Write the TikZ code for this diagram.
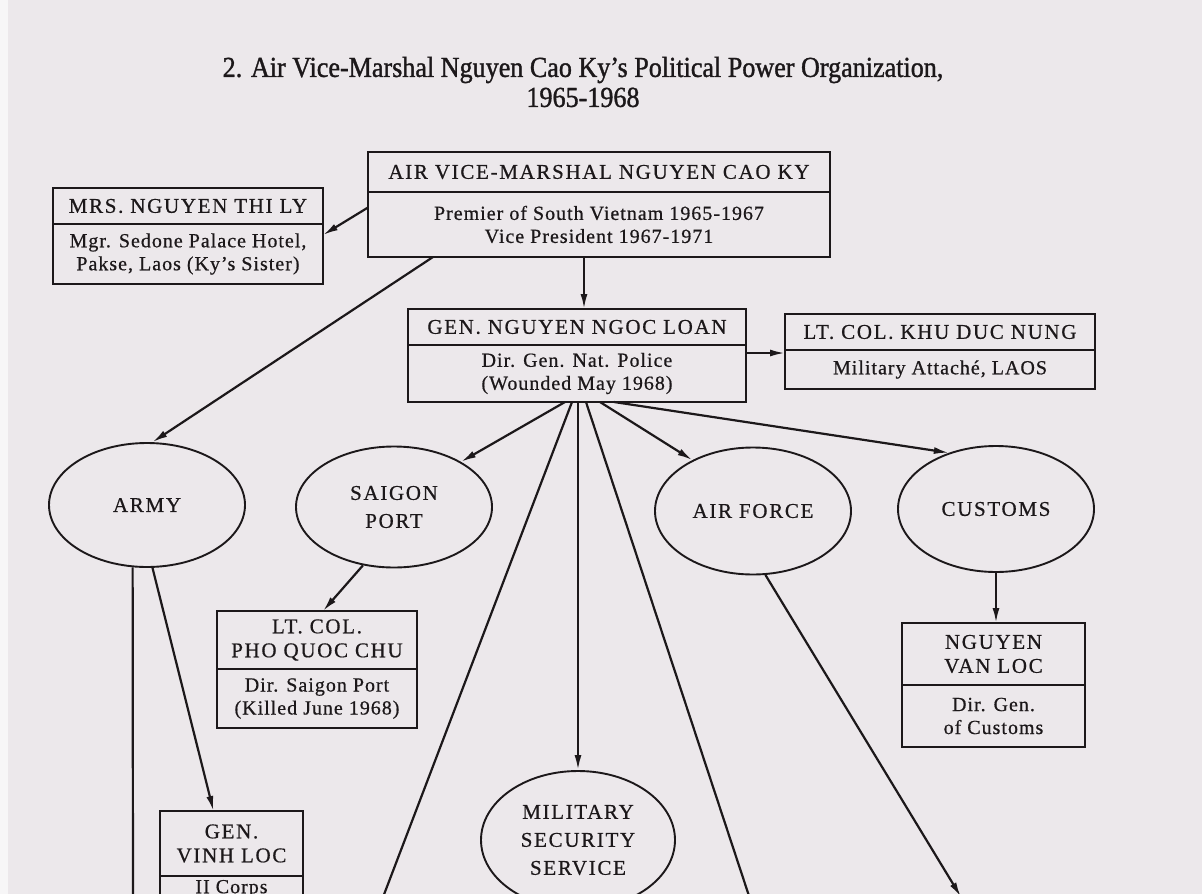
\documentclass[tikz,border=0pt]{standalone}
\usepackage{fontspec}
\setmainfont{Liberation Serif}
\newfontfamily\ttlfont[FakeStretch=0.9,FakeBold=1.2]{Liberation Serif}
\newfontfamily\capfont[LetterSpace=8,FakeBold=0.6]{Liberation Serif}
\newfontfamily\txtfont[LetterSpace=5,FakeBold=0.6]{Liberation Serif}
\usetikzlibrary{arrows.meta,positioning,shapes.geometric}
\definecolor{paper}{RGB}{236,232,235}
\definecolor{ink}{RGB}{28,24,26}

\begin{document}
\begin{tikzpicture}[x=1pt,y=-1pt,>={Latex[length=15pt,width=7pt]},
  hd/.style={draw=ink,line width=2.2pt,fill=paper,outer sep=0pt,inner sep=1pt,align=center,text=ink,font=\capfont\fontsize{21}{24}\selectfont},
  bd/.style={hd,font=\txtfont\fontsize{20}{23}\selectfont},
  oval/.style={ellipse,draw=ink,line width=1.9pt,fill=paper,inner sep=0pt,align=center,text=ink,font=\capfont\fontsize{21}{28}\selectfont},
  link/.style={draw=ink,line width=2.2pt}]
\useasboundingbox (0,0) rectangle (1202,894);
\clip (0,0) rectangle (1202,894);
\fill[paper] (0,0) rectangle (1202,894);
\fill[paper!40!white] (0,0) rectangle (8,894);

% title
\node[font=\ttlfont\fontsize{29}{30}\selectfont,text=ink,align=center] (ttl) at (583,82) {2. Air Vice-Marshal Nguyen Cao Ky’s Political Power Organization,\\1965-1968};

% people
\node[hd,minimum width=462pt,minimum height=40pt] (ky) at (599,172) {AIR VICE-MARSHAL NGUYEN CAO KY};
\node[bd,minimum width=462pt,minimum height=65pt,below=0pt of ky] (kyb) {Premier of South Vietnam 1965-1967\\Vice President 1967-1971};
\node[hd,minimum width=270pt,minimum height=36pt] (ly) at (188,206) {MRS. NGUYEN THI LY};
\node[bd,minimum width=270pt,minimum height=60pt,below=0pt of ly] (lyb) {Mgr. Sedone Palace Hotel,\\Pakse, Laos (Ky’s Sister)};
\node[hd,minimum width=338pt,minimum height=36pt] (loan) at (577,327) {GEN. NGUYEN NGOC LOAN};
\node[bd,minimum width=338pt,minimum height=57pt,below=0pt of loan] (loanb) {Dir. Gen. Nat. Police\\(Wounded May 1968)};
\node[hd,minimum width=310pt,minimum height=36pt] (khu) at (940,332) {LT. COL. KHU DUC NUNG};
\node[bd,minimum width=310pt,minimum height=39pt,below=0pt of khu] (khub) {Military Attaché, LAOS};
\node[hd,minimum width=200pt,minimum height=58pt] (pho) at (317,640) {LT. COL.\\PHO QUOC CHU};
\node[bd,minimum width=200pt,minimum height=59pt,below=0pt of pho] (phob) {Dir. Saigon Port\\(Killed June 1968)};
\node[hd,minimum width=183pt,minimum height=62pt] (loc) at (993.5,654) {NGUYEN\\VAN LOC};
\node[bd,minimum width=183pt,minimum height=62pt,below=0pt of loc] (locb) {Dir. Gen.\\of Customs};
\node[hd,minimum width=143pt,minimum height=65pt] (vinh) at (231.5,843.5) {GEN.\\VINH LOC};
\node[bd,minimum width=143pt,inner ysep=4pt,below=0pt of vinh] (vinhb) {II Corps\\[40pt]};

% services
\node[oval,minimum width=196pt,minimum height=124pt] (army) at (147,505) {ARMY};
\node[oval,minimum width=196pt,minimum height=121pt] (port) at (394,507) {SAIGON\\PORT};
\node[oval,minimum width=196pt,minimum height=127pt] (air) at (753,511) {AIR FORCE};
\node[oval,minimum width=196pt,minimum height=126pt] (cust) at (996,509) {CUSTOMS};
\node[oval,minimum width=194pt,minimum height=138pt] (mss) at (578,840) {MILITARY\\SECURITY\\SERVICE};

% lines running off the page
\coordinate (armyOut) at (133,905);
\coordinate (loanOutL) at (380,905);
\coordinate (loanOutR) at (752,905);
\coordinate (airOut) at (961,897);

\draw[link,->] ([yshift=17pt]kyb.west) -- ([yshift=19pt]lyb.east);
\draw[link,->] ([xshift=65pt]kyb.south west) -- (army.85);
\draw[link,->] ([xshift=-15pt]kyb.south) -- ([xshift=7pt]loan.north);
\draw[link,->] ([yshift=-8pt]loan.south east) -- ([yshift=-3pt]khu.south west);
\draw[link,->] ([xshift=-12pt]loanb.south) -- (port.34);
\draw[link] ([xshift=-5pt]loanb.south) -- (loanOutL);
\draw[link,->] ([xshift=1pt]loanb.south) -- (mss.north);
\draw[link] ([xshift=9pt]loanb.south) -- (loanOutR);
\draw[link,->] ([xshift=23pt]loanb.south) -- (air.140);
\draw[link,->] ([xshift=37pt]loanb.south) -- (cust.130);
\draw[link,->] (port.242) -- ([xshift=6pt]pho.north);
\draw[link] (army.257) -- (armyOut);
\draw[link,->] (army.275) -- ([xshift=-18pt]vinh.north);
\draw[link,->] (air.281) -- (airOut);
\draw[link,->] (cust.south) -- (cust.south |- loc.north);
\end{tikzpicture}
\end{document}
